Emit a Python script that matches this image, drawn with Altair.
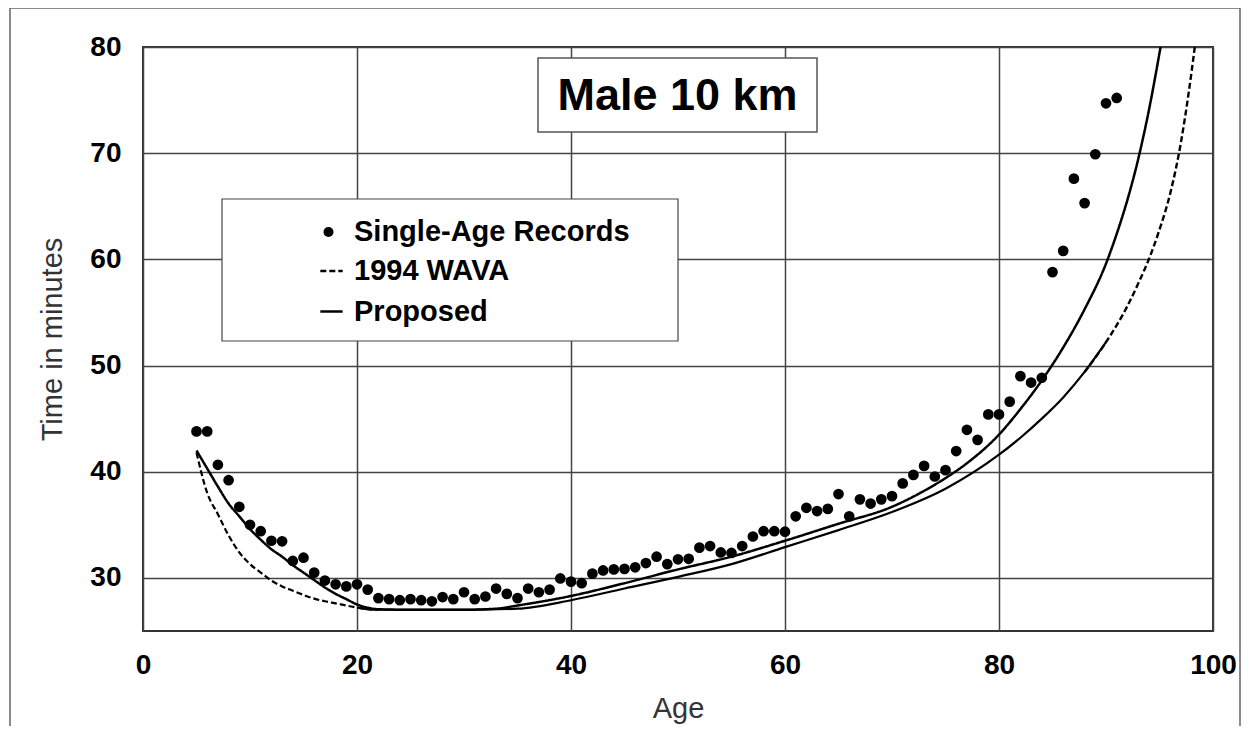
import altair as alt
import pandas as pd

FONT = "Liberation Sans"

chart_title = "Male 10 km"
series_names = ["Single-Age Records", "1994 WAVA", "Proposed"]
x_ticks = [0, 20, 40, 60, 80, 100]
y_ticks = [30, 40, 50, 60, 70, 80]

# Single-age records (one per age, 5..91)
record_ages = list(range(5, 92))
record_times = [
    43.8, 43.8, 40.65, 39.2, 36.7, 35.0, 34.4, 33.5, 33.45, 31.6,      # 5-14
    31.9, 30.5, 29.75, 29.4, 29.2, 29.4, 28.9, 28.1, 28.0, 27.9,       # 15-24
    28.0, 27.9, 27.8, 28.2, 28.0, 28.65, 28.0, 28.25, 29.0, 28.5,      # 25-34
    28.1, 29.0, 28.65, 28.9, 29.95, 29.65, 29.5, 30.4, 30.7, 30.8,     # 35-44
    30.85, 31.0, 31.4, 32.0, 31.3, 31.75, 31.8, 32.85, 33.0, 32.4,     # 45-54
    32.35, 33.0, 33.9, 34.4, 34.4, 34.35, 35.8, 36.6, 36.3, 36.5,      # 55-64
    37.9, 35.8, 37.4, 37.0, 37.4, 37.7, 38.9, 39.7, 40.55, 39.55,      # 65-74
    40.15, 41.95, 43.95, 43.0, 45.4, 45.4, 46.6, 49.0, 48.4, 48.85,    # 75-84
    58.8, 60.8, 67.6, 65.3, 69.9, 74.7, 75.2,                          # 85-91
]

# 1994 WAVA standard curve
wava_ages = [5, 6, 7, 8, 9, 10, 11, 12, 13, 14, 15, 16, 17, 18, 19, 20, 21, 22,
             30, 35, 40, 45, 50, 55, 60, 65, 70, 75, 80, 82, 84, 86, 88, 90,
             92, 93, 94, 95, 96, 97, 97.7, 98.3]
wava_times = [41.8, 38.0, 36.0, 34.0, 32.4, 31.3, 30.5, 29.75, 29.2, 28.8, 28.4,
              28.05, 27.8, 27.6, 27.4, 27.2, 27.05, 27.0,
              27.0, 27.1, 27.9, 29.0, 30.1, 31.3, 32.9, 34.5, 36.2, 38.4, 41.6,
              43.2, 45.0, 47.0, 49.4, 52.2, 55.6, 57.7, 60.0, 62.8, 66.2, 71.0,
              75.5, 80.0]

# Proposed standard curve
prop_ages = [5, 6, 7, 8, 9, 10, 11, 12, 13, 14, 15, 16, 17, 18, 19, 20, 21, 22,
             25, 30, 33, 35, 40, 45, 50, 55, 60, 65, 70, 73, 75, 77, 80, 82, 84,
             86, 88, 90, 91, 92, 93, 94, 95.1]
prop_times = [42.0, 40.3, 38.6, 37.0, 35.8, 34.6, 33.6, 32.7, 32.0, 31.2, 30.5,
              29.8, 29.1, 28.5, 28.0, 27.5, 27.2, 27.05,
              27.0, 27.0, 27.1, 27.4, 28.3, 29.5, 30.8, 32.0, 33.5, 35.1, 36.7,
              38.2, 39.4, 40.8, 43.5, 45.9, 48.6, 51.7, 55.3, 59.6, 62.4, 65.6,
              69.4, 74.0, 80.0]

rec_df = pd.DataFrame({"age": record_ages, "time": record_times, "series": series_names[0]})
wava_df = pd.DataFrame({"age": wava_ages, "time": wava_times, "series": series_names[1]})
prop_df = pd.DataFrame({"age": prop_ages, "time": prop_times, "series": series_names[2]})

x_enc = alt.X(
    "age:Q",
    scale=alt.Scale(domain=[0, 100], nice=False),
    axis=alt.Axis(values=x_ticks, title="Age", labelPadding=20, titlePadding=15, labelFlush=False),
)
y_enc = alt.Y(
    "time:Q",
    scale=alt.Scale(domain=[25, 80], nice=False, zero=False),
    axis=alt.Axis(values=y_ticks, title="Time in minutes", labelPadding=22, titlePadding=22,
                  labelFlush=False),
)

W, H = 1070, 584

legend_common = dict(
    title=None,
    orient="none",
    padding=0,
    labelFont=FONT,
    labelFontSize=29,
    labelFontWeight="bold",
    labelColor="black",
    labelLimit=600,
    symbolOpacity=1,
)

# legend for the curves (line symbols)
dash_enc = alt.StrokeDash(
    "series:N",
    scale=alt.Scale(domain=series_names[1:], range=[[6, 3], [1, 0]]),
    legend=alt.Legend(
        legendX=79,
        legendY=209.5,
        symbolOffset=95,
        labelOffset=8,
        rowPadding=10.5,
        symbolSize=500,
        symbolStrokeWidth=2.6,
        symbolStrokeColor="black",
        symbolType="stroke",
        **legend_common,
    ),
)

frame = alt.Chart(pd.DataFrame({"k": [0]})).mark_rect(
    fillOpacity=0, stroke="#666", strokeWidth=1.5
).encode(
    x=alt.value(-133), x2=alt.value(1097), y=alt.value(-39), y2=alt.value(H + 200)
)

wava_base = alt.Chart(wava_df)
wava_left = wava_base.transform_filter("datum.age <= 22").mark_line(
    color="black", strokeWidth=2.2, interpolate="monotone", clip=True
).encode(x=x_enc, y=y_enc, strokeDash=dash_enc)
wava_mid = wava_base.transform_filter("datum.age >= 20 && datum.age <= 90").mark_line(
    color="black", strokeWidth=2.2, interpolate="monotone", clip=True
).encode(x=x_enc, y=y_enc)
wava_right = wava_base.transform_filter("datum.age >= 88").mark_line(
    color="black", strokeWidth=2.4, interpolate="monotone", clip=True
).encode(x=x_enc, y=y_enc, strokeDash=dash_enc)

prop_line = alt.Chart(prop_df).mark_line(
    color="black", strokeWidth=2.5, interpolate="monotone", clip=True
).encode(x=x_enc, y=y_enc, strokeDash=dash_enc)

legend_box = alt.Chart(pd.DataFrame({"k": [0]})).mark_rect(
    fill="white", stroke="#444", strokeWidth=1.2
).encode(x=alt.value(79), x2=alt.value(535), y=alt.value(152), y2=alt.value(294))

points = alt.Chart(rec_df).mark_point(
    filled=True, color="black", opacity=1, size=115
).encode(
    x=x_enc,
    y=y_enc,
    shape=alt.Shape(
        "series:N",
        scale=alt.Scale(domain=series_names[:1], range=["circle"]),
        legend=alt.Legend(
            legendX=79,
            legendY=170.5,
            symbolOffset=92,
            labelOffset=11,
            symbolSize=100,
            symbolFillColor="black",
            **legend_common,
        ),
    ),
)

title_box = alt.Chart(pd.DataFrame({"t": [chart_title]})).mark_rect(
    fill="white", stroke="#555", strokeWidth=1.5
).encode(x=alt.value(395), x2=alt.value(674), y=alt.value(11), y2=alt.value(85))

title_text = alt.Chart(pd.DataFrame({"t": [chart_title]})).mark_text(
    font=FONT, fontSize=45, fontWeight="bold", color="black", align="center", baseline="middle"
).encode(text="t:N", x=alt.value(534.5), y=alt.value(49))

chart = alt.layer(frame, wava_left, wava_mid, wava_right, prop_line, legend_box, points,
                  title_box, title_text).properties(
    width=W,
    height=H,
    padding={"left": 135, "top": 39, "right": 28, "bottom": 95},
    autosize=alt.AutoSizeParams(type="none"),
    background="white",
).configure_view(
    stroke="#333", strokeWidth=2
).configure_axis(
    labelFont=FONT,
    labelFontSize=28,
    labelFontWeight="bold",
    labelColor="black",
    ticks=False,
    domain=False,
    grid=True,
    gridColor="#444",
    gridWidth=1.5,
    titleFont=FONT,
    titleFontSize=29,
    titleFontWeight="normal",
    titleColor="#333",
)

chart.save("out.html", embed_options={"renderer": "svg", "actions": False})
